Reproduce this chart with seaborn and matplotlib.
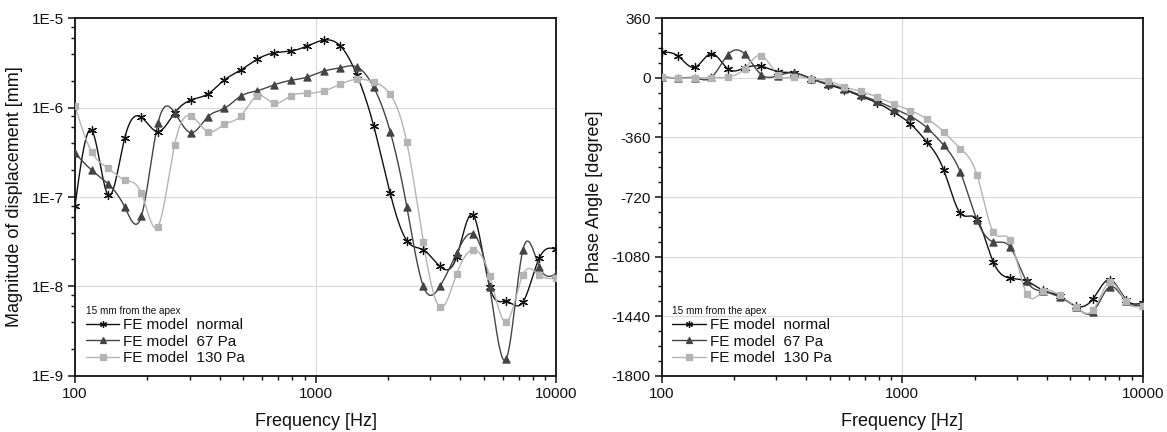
import numpy as np
import pandas as pd
import matplotlib
matplotlib.use("Agg")
import matplotlib.pyplot as plt
from matplotlib.lines import Line2D
from matplotlib.ticker import LogLocator, FuncFormatter, MultipleLocator, NullFormatter
import seaborn as sns

# Frequency grid of the finite-element solution [Hz]
freq = [100, 117.2, 137.4, 161.0, 188.7, 221.2, 259.3, 303.9, 356.2, 417.5,
        489.4, 573.6, 672.4, 788.1, 923.7, 1082.6, 1268.9, 1487.4, 1743.3, 2043.4,
        2395.1, 2807.3, 3290.4, 3856.8, 4520.5, 5298.5, 6210.4, 7279.3, 8532.1, 10000]

# Displacement magnitude [mm]
mag_normal = [8.0e-8, 5.6e-7, 1.05e-7, 4.6e-7, 7.8e-7, 5.4e-7, 8.7e-7, 1.22e-6, 1.42e-6, 2.04e-6,
              2.64e-6, 3.5e-6, 4.1e-6, 4.3e-6, 4.9e-6, 5.7e-6, 4.9e-6, 2.3e-6, 6.3e-7, 1.1e-7,
              3.25e-8, 2.56e-8, 1.67e-8, 2.12e-8, 6.3e-8, 9.8e-9, 6.8e-9, 6.65e-9, 2.1e-8, 2.6e-8]
mag_67 = [3.1e-7, 2.0e-7, 1.4e-7, 7.7e-8, 6.1e-8, 6.7e-7, 8.8e-7, 5.25e-7, 7.9e-7, 9.8e-7,
          1.35e-6, 1.55e-6, 1.8e-6, 2.02e-6, 2.2e-6, 2.57e-6, 2.8e-6, 2.85e-6, 1.7e-6, 5.4e-7,
          7.8e-8, 1.0e-8, 1.0e-8, 2.35e-8, 3.86e-8, 9.8e-9, 1.55e-9, 2.56e-8, 1.64e-8, 1.38e-8]
mag_130 = [1.04e-6, 3.2e-7, 2.1e-7, 1.55e-7, 1.1e-7, 4.67e-8, 3.83e-7, 8.07e-7, 5.4e-7, 6.5e-7,
           8.1e-7, 1.36e-6, 1.12e-6, 1.35e-6, 1.45e-6, 1.54e-6, 1.83e-6, 2.08e-6, 1.94e-6, 1.41e-6,
           4.1e-7, 3.12e-8, 5.85e-9, 1.37e-8, 2.56e-8, 1.31e-8, 4.0e-9, 1.35e-8, 1.33e-8, 1.24e-8]

# Phase angle [degree]
ph_normal = [155, 131, 64, 147, 54, 60, 70, 38, 30, -4,
             -40, -71, -111, -151, -208, -278, -389, -556, -818, -855,
             -1115, -1210, -1229, -1284, -1319, -1380, -1336, -1219, -1340, -1360]
ph_67 = [6, 0, 0, 3, 141, 145, 20, 14, 30, -4,
         -34, -66, -105, -141, -186, -232, -302, -407, -568, -858,
         -991, -1021, -1229, -1290, -1326, -1386, -1415, -1263, -1348, -1374]
ph_130 = [8, 0, 0, 2, 5, 56, 135, 20, 6, -4,
          -16, -54, -81, -117, -157, -198, -248, -326, -427, -584,
          -933, -982, -1304, -1290, -1314, -1386, -1404, -1235, -1351, -1380]

labels = ["FE model  normal", "FE model  67 Pa", "FE model  130 Pa"]
legend_title = "15 mm from the apex"

sns.set_theme(style="ticks")
plt.rcParams["font.family"] = ["Liberation Sans", "DejaVu Sans"]
plt.rcParams["axes.linewidth"] = 1.3
plt.rcParams["axes.unicode_minus"] = False


def natural_spline(x, y, n=40):
    """Natural cubic spline through (x, y), evaluated densely between knots."""
    x = np.asarray(x, float)
    y = np.asarray(y, float)
    k = len(x)
    h = np.diff(x)
    A = np.zeros((k, k))
    r = np.zeros(k)
    A[0, 0] = A[-1, -1] = 1.0
    for i in range(1, k - 1):
        A[i, i - 1] = h[i - 1]
        A[i, i] = 2 * (h[i - 1] + h[i])
        A[i, i + 1] = h[i]
        r[i] = 6 * ((y[i + 1] - y[i]) / h[i] - (y[i] - y[i - 1]) / h[i - 1])
    M = np.linalg.solve(A, r)
    xs, ys = [], []
    for i in range(k - 1):
        t = np.linspace(x[i], x[i + 1], n, endpoint=(i == k - 2))
        a = x[i + 1] - t
        b = t - x[i]
        s = (M[i] * a ** 3 + M[i + 1] * b ** 3) / (6 * h[i]) \
            + (y[i] / h[i] - M[i] * h[i] / 6) * a \
            + (y[i + 1] / h[i] - M[i + 1] * h[i] / 6) * b
        xs.append(t)
        ys.append(s)
    return np.concatenate(xs), np.concatenate(ys)


styles = [
    dict(color="#111111", marker=(6, 2, 0), s=34, lw=1.0),
    dict(color="#444444", marker="^", s=26, lw=1.0),
    dict(color="#b4b4b4", marker="s", s=24, lw=1.0),
]

fig = plt.figure(figsize=(11.67, 4.32), dpi=100)
ax1 = fig.add_axes([0.0643, 0.1303, 0.4122, 0.8273])
ax2 = fig.add_axes([0.5670, 0.1303, 0.4122, 0.8273])

lf = np.log10(freq)

# magnitude panel
for vals, st in zip([mag_normal, mag_67, mag_130], styles):
    xs, ys = natural_spline(lf, np.log10(vals))
    sns.lineplot(x=10 ** xs, y=10 ** ys, ax=ax1, color=st["color"], lw=st["lw"],
                 estimator=None, sort=False)
    sns.scatterplot(x=freq, y=vals, ax=ax1, color=st["color"], marker=st["marker"],
                    s=st["s"], edgecolor=st["color"], linewidth=0.9, zorder=3)

# phase panel
for vals, st in zip([ph_normal, ph_67, ph_130], styles):
    xs, ys = natural_spline(lf, vals)
    sns.lineplot(x=10 ** xs, y=ys, ax=ax2, color=st["color"], lw=st["lw"],
                 estimator=None, sort=False)
    sns.scatterplot(x=freq, y=vals, ax=ax2, color=st["color"], marker=st["marker"],
                    s=st["s"], edgecolor=st["color"], linewidth=0.9, zorder=3)

for ax in (ax1, ax2):
    ax.set_xscale("log")
    ax.set_xlim(100, 10000)
    ax.xaxis.set_major_locator(LogLocator(base=10))
    ax.xaxis.set_minor_locator(LogLocator(base=10, subs=range(2, 10)))
    ax.xaxis.set_minor_formatter(NullFormatter())
    ax.xaxis.set_major_formatter(FuncFormatter(lambda v, p: f"{int(round(v))}"))
    ax.set_xlabel("Frequency [Hz]", fontsize=13, labelpad=9, color="#111111")
    ax.grid(True, which="major", color="#d8d8d8", lw=0.8)
    ax.tick_params(which="major", direction="out", length=5, width=1.1, labelsize=11,
                   top=False, right=False, color="#111111", labelcolor="#111111", pad=3)
    ax.tick_params(which="minor", direction="out", length=3, width=1.0,
                   top=False, right=False, color="#111111")
    for sp in ax.spines.values():
        sp.set_visible(True)
        sp.set_color("#111111")
        sp.set_linewidth(1.3)

ax1.set_yscale("log")
ax1.set_ylim(1e-9, 1e-5)
ax1.yaxis.set_major_locator(LogLocator(base=10))
ax1.yaxis.set_minor_locator(LogLocator(base=10, subs=[2, 4, 6, 8]))
ax1.yaxis.set_minor_formatter(NullFormatter())
ax1.yaxis.set_major_formatter(FuncFormatter(lambda v, p: f"1E{int(round(np.log10(v)))}"))
ax1.set_ylabel("Magnitude of displacement [mm]", fontsize=13, labelpad=6, color="#111111")

ax2.set_ylim(-1800, 360)
ax2.yaxis.set_major_locator(MultipleLocator(360))
ax2.yaxis.set_minor_locator(MultipleLocator(90))
ax2.set_ylabel("Phase Angle [degree]", fontsize=13, labelpad=6, color="#111111")

handles = [Line2D([0], [0], color=st["color"], lw=1.0, marker=st["marker"],
                  markersize=5, markeredgewidth=0.9, markeredgecolor=st["color"])
           for st in styles]
for ax in (ax1, ax2):
    leg = ax.legend(handles, labels, title=legend_title, loc="lower left",
                    bbox_to_anchor=(0.0, 0.0), frameon=False, fontsize=11,
                    title_fontsize=7.2, alignment="left", handlelength=2.2,
                    handletextpad=0.25, labelspacing=0.15, borderaxespad=0.4,
                    borderpad=0.3)
    leg.get_title().set_color("#111111")
    for t in leg.get_texts():
        t.set_color("#111111")

fig.savefig("out.png", dpi=100)
